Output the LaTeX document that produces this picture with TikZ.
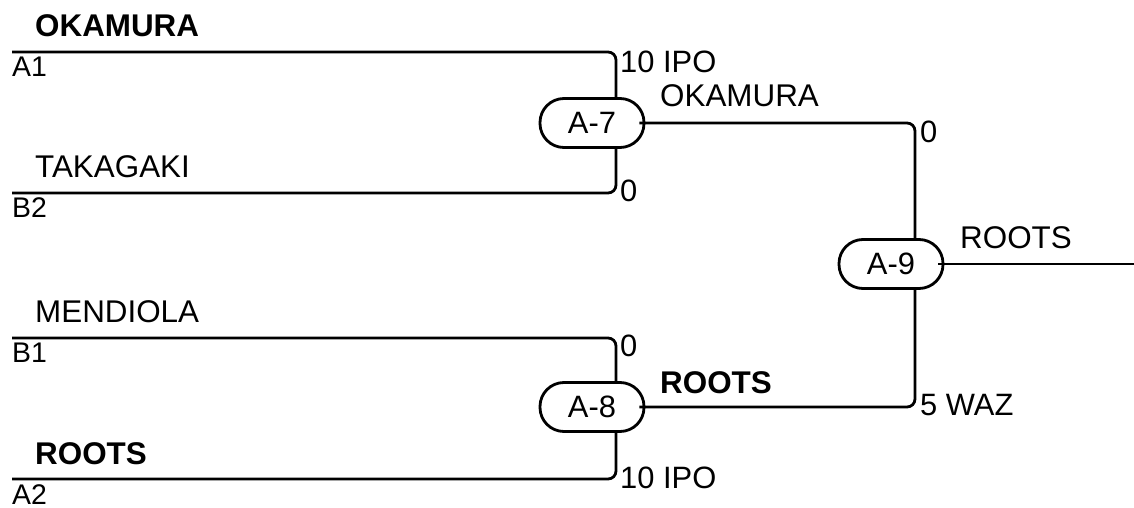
\documentclass[tikz,border=0pt]{standalone}
\usepackage{fontspec}
\setmainfont{Liberation Sans}
\begin{document}
\begin{tikzpicture}[x=1bp,y=-1bp,
  wire/.style={line width=2.8bp, rounded corners=8bp},
  match/.style={draw, line width=2.8bp, rounded corners=24bp, minimum width=104bp, minimum height=49bp, inner sep=0pt, font=\fontsize{31}{37}\selectfont},
  pname/.style={anchor=base west, inner sep=0pt, font=\fontsize{31.5}{38}\selectfont},
  bpname/.style={anchor=base west, inner sep=0pt, font=\fontsize{31.5}{38}\selectfont\bfseries},
  seed/.style={anchor=base west, inner sep=0pt, font=\fontsize{28.5}{34}\selectfont},
  score/.style={anchor=base west, inner sep=0pt, font=\fontsize{31}{37}\selectfont}]
\useasboundingbox (0,0) rectangle (1134,508);
% match nodes
\node[match] (A7) at (592,123) {A-7};
\node[match] (A8) at (592,407) {A-8};
\node[match] (A9) at (891,264) {A-9};
% line starts
\coordinate (sA1) at (12,52);
\coordinate (sB2) at (12,193);
\coordinate (sB1) at (12,338);
\coordinate (sA2) at (12,479);
\coordinate (out) at (1134,264);
% wires
\draw[wire] (sA1) -| ([xshift=24bp]A7.north);
\draw[wire] (sB2) -| ([xshift=24bp]A7.south);
\draw[wire] (sB1) -| ([xshift=24bp]A8.north);
\draw[wire] (sA2) -| ([xshift=24bp]A8.south);
\draw[wire] ([xshift=-6bp]A7.east) -| ([xshift=24bp]A9.north);
\draw[wire] ([xshift=-6bp]A8.east) -| ([xshift=24bp]A9.south);
\draw[wire] ([xshift=-6bp]A9.east) -- (out);
% player names
\node[bpname] (nOK) at (35,37) {OKAMURA};
\node[pname] (nTA) at (35,178) {TAKAGAKI};
\node[pname] (nME) at (35,323) {MENDIOLA};
\node[bpname] (nRO) at (35,464) {ROOTS};
% seeds
\node[seed] (lA1) at (12,77) {A1};
\node[seed] (lB2) at (12,218) {B2};
\node[seed] (lB1) at (12,363) {B1};
\node[seed] (lA2) at (12,504) {A2};
% scores
\node[score] (s1) at (620,73) {10 IPO};
\node[score] (s2) at (620,202) {0};
\node[score] (s3) at (620,357) {0};
\node[score] (s4) at (620,488) {10 IPO};
\node[score] (s5) at (920,143) {0};
\node[score] (s6) at (920,415) {5 WAZ};
% winners
\node[pname] (w7) at (660,107) {OKAMURA};
\node[bpname] (w8) at (660,393) {ROOTS};
\node[pname] (w9) at (960,249) {ROOTS};
\end{tikzpicture}
\end{document}
